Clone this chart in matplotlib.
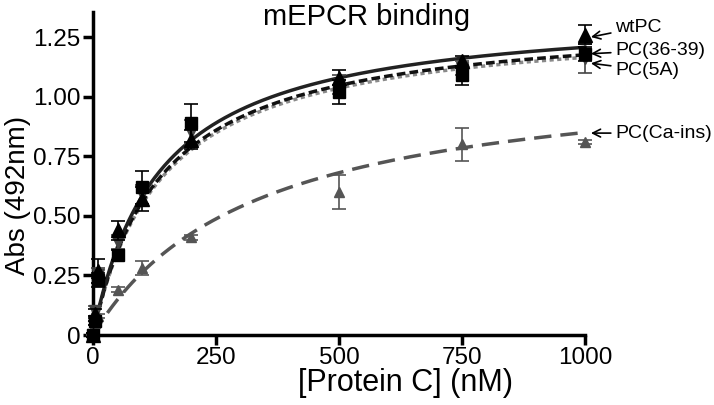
import numpy as np
import matplotlib
matplotlib.use("Agg")
import matplotlib.pyplot as plt

plt.rcParams['font.family'] = ['Liberation Sans', 'DejaVu Sans']

# Data
conc = [0, 5, 10, 50, 100, 200, 500, 750, 1000]
wtpc = [0.0, 0.09, 0.27, 0.44, 0.57, 0.82, 1.08, 1.15, 1.26]
wtpc_err = [0.01, 0.02, 0.05, 0.04, 0.05, 0.04, 0.03, 0.02, 0.04]
pc3639 = [0.0, 0.06, 0.23, 0.335, 0.62, 0.89, 1.02, 1.09, 1.18]
pc3639_err = [0.01, 0.02, 0.03, 0.02, 0.07, 0.08, 0.05, 0.04, 0.03]
pc5a = [0.0, 0.10, 0.25, 0.39, 0.59, 0.85, 1.05, 1.12, 1.16]
pc5a_err = [0.01, 0.02, 0.03, 0.03, 0.04, 0.05, 0.04, 0.03, 0.06]
caIns = [0.0, 0.05, 0.08, 0.19, 0.28, 0.41, 0.60, 0.80, 0.81]
caIns_err = [0.0, 0.01, 0.01, 0.01, 0.03, 0.01, 0.07, 0.07, 0.01]

# One-site binding fit parameters (Bmax, Kd)
fit_wtpc = (1.37, 135)
fit_3639 = (1.34, 140)
fit_5a = (1.33, 142)
fit_ca = (1.13, 330)

labels = ['wtPC', 'PC(36-39)', 'PC(5A)', 'PC(Ca-ins)']

fig = plt.figure(figsize=(7.14, 4.05), dpi=100)
ax = fig.add_axes([89/714, 70/405, (585-89)/714, 323/405])

xs = np.linspace(0, 1000, 400)
def hyper(p):
    return p[0]*xs/(p[1]+xs)

ax.plot(xs, hyper(fit_ca), color='#555555', lw=2.5, ls=(0, (5, 2.6)), zorder=2)
ax.plot(xs, hyper(fit_5a), color='#8a8a8a', lw=2.5, ls=(0, (1.2, 1)), zorder=3)
ax.plot(xs, hyper(fit_3639), color='#111111', lw=2.5, ls=(0, (2.5, 1.2)), zorder=4)
ax.plot(xs, hyper(fit_wtpc), color='#222222', lw=2.5, ls='-', zorder=5)

ekw = dict(capsize=5, elinewidth=1.2, capthick=1.2, ls='none', clip_on=False)
ax.errorbar(conc, caIns, yerr=caIns_err, color='#555555', marker='^', ms=7.5, zorder=6, **ekw)
ax.errorbar(conc, pc5a, yerr=pc5a_err, color='#444444', marker='v', ms=8, zorder=7, **ekw)
ax.errorbar(conc, pc3639, yerr=pc3639_err, color='black', marker='s', ms=8.5, zorder=8, **ekw)
ax.errorbar(conc, wtpc, yerr=wtpc_err, color='black', marker='^', ms=10, zorder=9, **ekw)
for c in ax.collections + ax.lines:
    c.set_clip_on(False)

ax.set_xlim(-8, 1000)
ax.set_ylim(0, 1.355)
ax.spines['left'].set_position(('data', 0))
ax.spines['right'].set_visible(False)
ax.spines['top'].set_visible(False)
for s in ['left', 'bottom']:
    ax.spines[s].set_linewidth(2.5)
ax.set_xticks([0, 250, 500, 750, 1000])
ax.set_xticklabels(['0', '250', '500', '750', '1000'])
ax.set_yticks([0, 0.25, 0.5, 0.75, 1.0, 1.25])
ax.set_yticklabels(['0', '0.25', '0.50', '0.75', '1.00', '1.25'])
ax.tick_params(axis='both', direction='out', length=7, width=2.5, labelsize=17.5, pad=2)

fig.text(405/714, 1-383/405, '[Protein C] (nM)', fontsize=22, ha='center', va='center')
fig.text(18/714, 1-195/405, 'Abs (492nm)', rotation=90, fontsize=20, ha='center', va='center')
fig.text(367/714, 1-17/405, 'mEPCR binding', fontsize=21, ha='center', va='center')

ann = [
    (labels[0], (1012, 1.25), (1061, 1.29)),
    (labels[1], (1012, 1.18), (1061, 1.195)),
    (labels[2], (1012, 1.14), (1061, 1.11)),
    (labels[3], (1012, 0.847), (1061, 0.847)),
]
for t, xy, xyt in ann:
    ax.annotate(t, xy=xy, xytext=xyt, fontsize=14, va='center', ha='left',
                annotation_clip=False,
                arrowprops=dict(arrowstyle='->', lw=1.2, color='black', shrinkA=1, shrinkB=0))

fig.savefig('out.png', dpi=100)
